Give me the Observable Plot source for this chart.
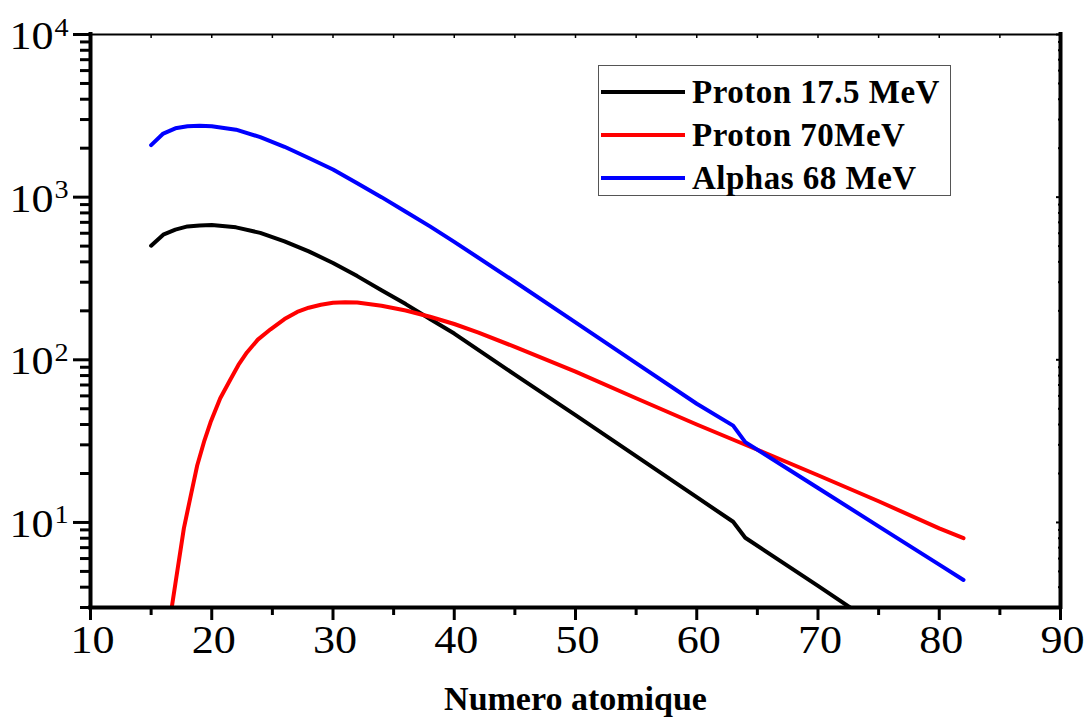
<!DOCTYPE html>
<html><head><meta charset="utf-8">
<script src="https://cdn.jsdelivr.net/npm/d3@7"></script>
<script src="https://cdn.jsdelivr.net/npm/@observablehq/plot@0.6"></script>
<style>
body{margin:0;background:#fff;}
#wrap{position:relative;width:1086px;height:717px;overflow:hidden;background:#fff;}
#wrap svg text{font-family:"Liberation Serif","Times New Roman",serif;}
.legend{position:absolute;left:598px;top:65px;width:353px;height:131px;border:1.5px solid #555;box-sizing:border-box;
  font-family:"Liberation Serif","Times New Roman",serif;font-weight:bold;font-size:33px;color:#000;}
.row{position:absolute;left:0;height:0;}
.sw{position:absolute;left:2px;width:84px;height:4px;top:-2px;}
.lb{position:absolute;left:93px;top:-19px;line-height:38px;white-space:nowrap;letter-spacing:0.5px;}
</style></head>
<body><div id="wrap"></div>
<script>
// ---- data ----
const zBlack = [15,16,17,18,19,20,22,24,26,28,30,32,34,36,38,40,45,50,55,60,63,64,70,75];
const pBlack = [503,588,631,661,670,674,652,603,535,464,394,327,268,220,178,145,81,45.7,25.6,14.3,10.1,8.05,4.07,2.29];

const zRed = [16.5,16.7,17,17.7,18.3,18.8,19.4,19.9,20.7,21.55,22.2,22.9,23.8,24.85,26,27.05,28,29,30,31,32,34,36,38,40,42,45,50,55,60,65,70,75,80,82];
const pRed = [2.4,3.0,4.2,9.2,15,22.4,32,41.3,58,76,93,111,133,154,178,197,209,218,224,226,225,215,201,184,166,147,120,84.5,58,40,28,19.5,13.5,9.2,8.0];

const zBlue = [15,16,17,18,19,20,22,24,26,28,30,32,34,36,38,40,45,50,55,60,63,64,70,75,80,82];
const pBlue = [2090,2460,2650,2730,2750,2730,2600,2340,2040,1740,1479,1216,1000,813,661,531,302,170,95.5,53.7,39.4,31.2,16.3,9.46,5.5,4.43];

const seriesNames = ["Proton 17.5 MeV","Proton 70MeV","Alphas 68 MeV"];
const seriesColors = ["#000000","#ff0000","#0000ff"];

const majorX = [10,20,30,40,50,60,70,80,90];
const minorX = [15,25,35,45,55,65,75,85];
const majorY = [10,100,1000,10000];
const yBase = ["10","10","10","10"];
const yExp = ["1","2","3","4"];
const minorY = [3,4,5,6,7,8,9,20,30,40,50,60,70,80,90,200,300,400,500,600,700,800,900,2000,3000,4000,5000,6000,7000,8000,9000];
const xTitle = "Numero atomique";

// ---- build ----
const series = [
  {z: zBlack, p: pBlack},
  {z: zRed, p: pRed},
  {z: zBlue, p: pBlue}
].map((s, k) => ({name: seriesNames[k], color: seriesColors[k], rows: s.z.map((z, i) => ({z, v: s.p[i]}))}));

const serif = "Liberation Serif";

const chart = Plot.plot({
  width: 1086, height: 717,
  marginLeft: 90, marginRight: 26, marginTop: 34, marginBottom: 110,
  x: {domain: [10, 90], axis: null},
  y: {type: "log", domain: [3, 10000], axis: null},
  style: {fontFamily: serif, background: "white", color: "black"},
  marks: [
    ...series.map(s => Plot.line(s.rows, {x: "z", y: "v", stroke: s.color, strokeWidth: 4, curve: "linear", strokeLinejoin: "round", clip: true})),
    // frame
    Plot.ruleY([10000], {stroke: "black", strokeWidth: 2}),
    Plot.ruleX([10], {stroke: "black", strokeWidth: 4, strokeLinecap: "square"}),
    Plot.ruleX([90], {stroke: "black", strokeWidth: 4, strokeLinecap: "square"}),
    Plot.ruleY([3], {stroke: "black", strokeWidth: 4, strokeLinecap: "square"}),
    // bottom ticks
    Plot.axisX(majorX, {anchor: "bottom", tickSize: 13, strokeWidth: 3, tickFormat: () => "", label: null}),
    Plot.axisX(minorX, {anchor: "bottom", tickSize: 8, strokeWidth: 3, tickFormat: () => "", label: null}),
    // top ticks (inward)
    Plot.axisX(majorX.concat(minorX), {anchor: "top", tickSize: -3, strokeWidth: 1.5, tickFormat: () => "", label: null}),
    // left ticks
    Plot.axisY(majorY, {anchor: "left", tickSize: 17, strokeWidth: 3, tickFormat: () => "", label: null}),
    Plot.axisY(minorY, {anchor: "left", tickSize: 10, strokeWidth: 3, tickFormat: () => "", label: null}),
    // right ticks (inward)
    Plot.axisY(majorY, {anchor: "right", tickSize: -5, strokeWidth: 2, tickFormat: () => "", label: null}),
    Plot.axisY(minorY, {anchor: "right", tickSize: -3, strokeWidth: 2, tickFormat: () => "", label: null}),
    // tick labels
    Plot.text(majorX, {x: d => d, text: d => String(d), frameAnchor: "bottom", dx: 2, dy: 33, lineAnchor: "middle", fontSize: 39, fontFamily: serif, fill: "black", className: "stretch"}),
    Plot.text(majorY, {y: d => d, text: (d, i) => yBase[i], frameAnchor: "left", dx: -37, dy: 2, textAnchor: "end", lineAnchor: "middle", fontSize: 39, fontFamily: serif, fill: "black", className: "stretch"}),
    Plot.text(majorY, {y: d => d, text: (d, i) => yExp[i], frameAnchor: "left", dx: -36, dy: -7, textAnchor: "start", lineAnchor: "middle", fontSize: 25, fontFamily: serif, fill: "black", className: "stretch"}),
    // axis title
    Plot.text([xTitle], {text: d => d, frameAnchor: "bottom", dy: 102, lineAnchor: "bottom", fontSize: 34, fontWeight: "bold", fontFamily: serif, fill: "black"})
  ]
});

const wrap = document.getElementById("wrap");
wrap.appendChild(chart);

// widen the Times-style tick numerals a little, as in the reference
chart.querySelectorAll(".stretch text").forEach(t => {
  const len = t.getComputedTextLength();
  if (len > 0) {
    t.setAttribute("textLength", (len * 1.13).toFixed(1));
    t.setAttribute("lengthAdjust", "spacingAndGlyphs");
  }
});

// legend
const leg = document.createElement("div");
leg.className = "legend";
const rowTops = [26, 69, 112];
series.forEach((s, k) => {
  const r = document.createElement("div");
  r.className = "row";
  r.style.top = rowTops[k] + "px";
  const sw = document.createElement("div");
  sw.className = "sw";
  sw.style.background = s.color;
  const lb = document.createElement("div");
  lb.className = "lb";
  lb.textContent = s.name;
  r.appendChild(sw); r.appendChild(lb);
  leg.appendChild(r);
});
wrap.appendChild(leg);
</script>
</body></html>
